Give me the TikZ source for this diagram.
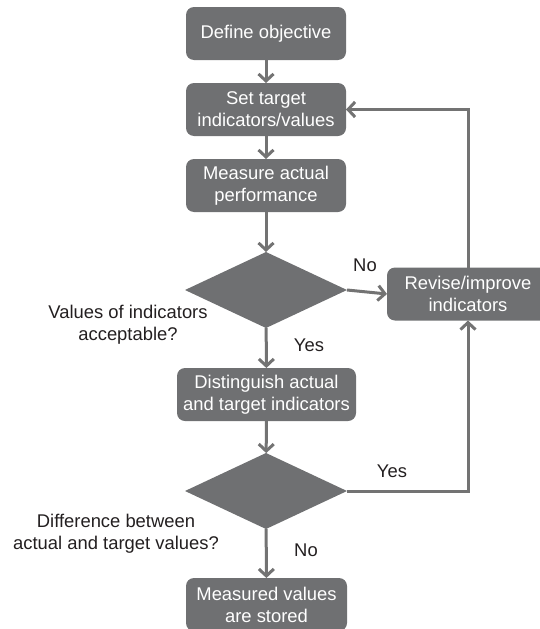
\documentclass[tikz,border=0pt]{standalone}
\usepackage{fontspec}
\setmainfont{Liberation Sans}
\usetikzlibrary{shapes.geometric,arrows.meta}
\definecolor{boxgray}{HTML}{6F7072}
\definecolor{linegray}{HTML}{737373}
\definecolor{ink}{HTML}{231F20}
\tikzset{
  stepbox/.style={rectangle, rounded corners=8pt, fill=boxgray, text=white,
    align=center, inner sep=0pt, outer sep=0pt, minimum height=53pt,
    font=\fontsize{18.4}{22}\selectfont},
  decision/.style={diamond, fill=boxgray, inner sep=0pt, outer sep=0pt,
    minimum width=162pt, minimum height=76pt},
  flow/.style={draw=linegray, line width=3pt,
    -{Straight Barb[length=7pt,width=15pt,line width=3pt]}},
  note/.style={text=ink, align=center, font=\fontsize{18.4}{22}\selectfont}
}
\begin{document}
\begin{tikzpicture}[x=1pt,y=-1pt]
\useasboundingbox (0,0) rectangle (540,629);
\clip (0,0) rectangle (540,629);

% process steps
\node[stepbox, minimum width=160pt] (define) at (266,33.5) {Define objective};
\node[stepbox, minimum width=160pt] (target) at (266,109.5) {Set target\\indicators/values};
\node[stepbox, minimum width=160pt] (measure) at (266,185.5) {Measure actual\\performance};
\node[decision] (accept) at (266,290) {};
\node[stepbox, minimum width=179pt] (distinguish) at (266.5,394.5) {Distinguish actual\\and target indicators};
\node[decision] (diff) at (266,491) {};
\node[stepbox, minimum width=161pt] (stored) at (266.5,604.5) {Measured values\\are stored};
\node[stepbox, minimum width=162pt] (revise) at (468,294) {Revise/improve\\indicators};

% decision captions
\node[note] (acceptq) at (128,325) {Values of indicators\\acceptable?};
\node[note] (diffq) at (116,534) {Difference between\\actual and target values?};

% main flow
\draw[flow] (define) -- (target);
\draw[flow] (target) -- (measure);
\draw[flow] (measure) -- (accept);
\draw[flow] (accept) -- (distinguish);
\draw[flow] (distinguish) -- (diff);
\draw[flow] (diff) -- (stored);

% feedback loop
\draw[flow] (accept.east) -- (revise.west);
\draw[flow] (diff.east) -| (revise.south);
\draw[flow] (revise.north) |- (target.east);

% branch labels
\node[note] (noA) at (365,265) {No};
\node[note] (yesA) at (309,345) {Yes};
\node[note] (yesB) at (392,471) {Yes};
\node[note] (noB) at (306,550) {No};
\end{tikzpicture}
\end{document}
